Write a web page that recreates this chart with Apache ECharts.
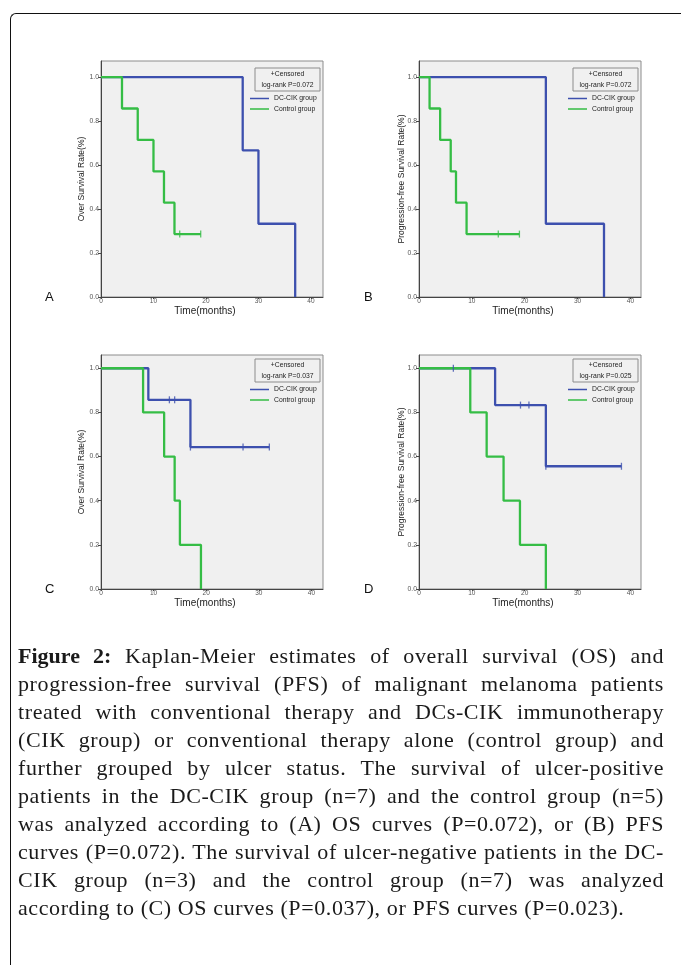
<!DOCTYPE html>
<html>
<head>
<meta charset="utf-8">
<script src="https://cdn.jsdelivr.net/npm/echarts@6/dist/echarts.min.js"></script>
<style>
html,body{margin:0;padding:0;background:#fff;}
#wrap{position:relative;width:681px;height:965px;overflow:hidden;}
#chart{position:absolute;left:0;top:0;width:681px;height:965px;}
#frame{position:absolute;left:10px;top:13px;width:720px;height:1000px;border-left:1.5px solid #111;border-top:1.5px solid #111;border-top-left-radius:6px;}
#caption{position:absolute;left:18px;top:642px;width:646px;font-family:"Liberation Serif","DejaVu Serif",serif;font-size:22px;letter-spacing:0.6px;line-height:28px;color:#1a1a1a;}
#caption div{text-align:justify;text-align-last:justify;white-space:nowrap;}
#caption div.last{text-align:left;text-align-last:left;}
#caption b{font-weight:bold;letter-spacing:0;}
</style>
</head>
<body>
<div id="wrap">
<div id="frame"></div>
<div id="chart"></div>
<div id="caption">
<div><b>Figure 2:</b> Kaplan-Meier estimates of overall survival (OS) and</div>
<div>progression-free survival (PFS) of malignant melanoma patients</div>
<div>treated with conventional therapy and DCs-CIK immunotherapy</div>
<div>(CIK group) or conventional therapy alone (control group) and</div>
<div>further grouped by ulcer status. The survival of ulcer-positive</div>
<div>patients in the DC-CIK group (n=7) and the control group (n=5)</div>
<div>was analyzed according to (A) OS curves (P=0.072), or (B) PFS</div>
<div>curves (P=0.072). The survival of ulcer-negative patients in the DC-</div>
<div>CIK group (n=3) and the control group (n=7) was analyzed</div>
<div class="last">according to (C) OS curves (P=0.037), or PFS curves (P=0.023).</div>
</div>
</div>
<script>
// panel A - ulcer positive, OS
var aDcTime=[0,27,30,37];
var aDcSurv=[1,0.667,0.333,0];
var aCtrlTime=[0,4,7,10,12,14,19];
var aCtrlSurv=[1,0.857,0.714,0.571,0.429,0.286,0.286];
var aCtrlCensTime=[15,19];
var aCtrlCensSurv=[0.286,0.286];
// panel B - ulcer positive, PFS
var bDcTime=[0,24,35];
var bDcSurv=[1,0.333,0];
var bCtrlTime=[0,2,4,6,7,9,19];
var bCtrlSurv=[1,0.857,0.714,0.571,0.429,0.286,0.286];
var bCtrlCensTime=[15,19];
var bCtrlCensSurv=[0.286,0.286];
// panel C - ulcer negative, OS
var cDcTime=[0,9,17,32];
var cDcSurv=[1,0.857,0.643,0.643];
var cDcCensTime=[13,14,17,27,32];
var cDcCensSurv=[0.857,0.857,0.643,0.643,0.643];
var cCtrlTime=[0,8,12,14,15,19];
var cCtrlSurv=[1,0.8,0.6,0.4,0.2,0];
// panel D - ulcer negative, PFS
var dDcTime=[0,14.4,24,38.3];
var dDcSurv=[1,0.833,0.556,0.556];
var dDcCensTime=[6.5,19.2,20.8,24,38.3];
var dDcCensSurv=[1,0.833,0.833,0.556,0.556];
var dCtrlTime=[0,9.7,12.8,16,19.1,24];
var dCtrlSurv=[1,0.8,0.6,0.4,0.2,0];

var xTicks=[0,10,20,30,40];
var yTicks=[0,0.2,0.4,0.6,0.8,1.0];
var panelLetters=['A','B','C','D'];
var yTitles=['Over Survival Rate(%)','Progression-free Survival Rate(%)','Over Survival Rate(%)','Progression-free Survival Rate(%)'];
var pValues=['log-rank P=0.072','log-rank P=0.072','log-rank P=0.037','log-rank P=0.025'];
var xTitle='Time(months)';
var groupNames=['DC-CIK group','Control group'];

var blue='#3d50ae';
var green='#35bd45';

function pairs(t,s){
	var out=[];
	for(var i=0;i<t.length;i++){out.push([t[i],s[i]]);}
	return out;
}

// layout of the 4 plot boxes
var boxes=[
	{left:101,top:61,width:222,height:236,ymax:1.073,xmax:42.3},
	{left:419,top:61,width:222,height:236,ymax:1.073,xmax:42},
	{left:101,top:355,width:222,height:234,ymax:1.06,xmax:42.2},
	{left:419,top:355,width:222,height:234,ymax:1.06,xmax:42}
];
var yGap=[14.5,12.5,14.5,12.5];

var panels=[
	{dc:pairs(aDcTime,aDcSurv),ctrl:pairs(aCtrlTime,aCtrlSurv),dcCens:[],ctrlCens:pairs(aCtrlCensTime,aCtrlCensSurv)},
	{dc:pairs(bDcTime,bDcSurv),ctrl:pairs(bCtrlTime,bCtrlSurv),dcCens:[],ctrlCens:pairs(bCtrlCensTime,bCtrlCensSurv)},
	{dc:pairs(cDcTime,cDcSurv),ctrl:pairs(cCtrlTime,cCtrlSurv),dcCens:pairs(cDcCensTime,cDcCensSurv),ctrlCens:[]},
	{dc:pairs(dDcTime,dDcSurv),ctrl:pairs(dCtrlTime,dCtrlSurv),dcCens:pairs(dDcCensTime,dDcCensSurv),ctrlCens:[]}
];

var grid=[],xAxis=[],yAxis=[],series=[],legend=[],graphic=[];
for(var k=0;k<4;k++){
	var b=boxes[k];
	grid.push({left:b.left,top:b.top,width:b.width,height:b.height,show:true,backgroundColor:'#f0f0f0',borderColor:'#8c8c8c',borderWidth:1});
	xAxis.push({
		type:'value',gridIndex:k,min:0,max:b.xmax,interval:10,
		name:xTitle,nameLocation:'middle',nameGap:9,nameMoveOverlap:false,
		nameTextStyle:{fontSize:10,color:'#222',fontFamily:'Liberation Sans',padding:[0,14,0,0]},
		axisLine:{show:true,onZero:false,lineStyle:{color:'#444',width:1}},
		axisTick:{show:true,length:2,customValues:xTicks,lineStyle:{color:'#444'}},
		axisLabel:{fontSize:6.5,color:'#555',margin:1,fontFamily:'Liberation Sans',customValues:xTicks},
		splitLine:{show:false}
	});
	yAxis.push({
		type:'value',gridIndex:k,min:0,max:b.ymax,interval:0.2,
		name:yTitles[k],nameLocation:'middle',nameGap:yGap[k],nameMoveOverlap:false,
		nameTextStyle:{fontSize:8.5,color:'#222',fontFamily:'Liberation Sans'},
		axisLine:{show:true,onZero:false,lineStyle:{color:'#444',width:1}},
		axisTick:{show:true,length:3,customValues:yTicks,lineStyle:{color:'#444'}},
		axisLabel:{fontSize:6.8,color:'#555',margin:2,fontFamily:'Liberation Sans',customValues:yTicks,
			formatter:function(v){return v.toFixed(1);}},
		splitLine:{show:false}
	});
	var p=panels[k];
	series.push({name:groupNames[0],type:'line',xAxisIndex:k,yAxisIndex:k,step:'end',symbol:'none',data:p.dc,lineStyle:{color:blue,width:2.3},itemStyle:{color:blue},z:3});
	series.push({name:groupNames[1],type:'line',xAxisIndex:k,yAxisIndex:k,step:'end',symbol:'none',data:p.ctrl,lineStyle:{color:green,width:2.3},itemStyle:{color:green},z:3});
	series.push({name:'dc censored '+k,type:'scatter',xAxisIndex:k,yAxisIndex:k,symbol:'rect',symbolSize:[1.3,7],data:p.dcCens,itemStyle:{color:blue},z:4});
	series.push({name:'ctrl censored '+k,type:'scatter',xAxisIndex:k,yAxisIndex:k,symbol:'rect',symbolSize:[1.3,7],data:p.ctrlCens,itemStyle:{color:green},z:4});

	var bx=b.left+b.width-68, by=b.top+(k<2?7:4);
	legend.push({
		data:groupNames,orient:'vertical',left:bx-5,top:by+27,padding:0,
		icon:'rect',itemWidth:19,itemHeight:1.5,itemGap:3.5,
		textStyle:{fontSize:6.8,color:'#222',fontFamily:'Liberation Sans'},
		selectedMode:false
	});
	graphic.push({type:'rect',shape:{x:bx,y:by,width:65,height:23},style:{fill:'#f0f0f0',stroke:'#8c8c8c',lineWidth:1},z:10});
	graphic.push({type:'text',x:bx+32.5,y:by+6.5,style:{text:'+Censored',fontSize:6.8,fill:'#222',align:'center',verticalAlign:'middle',fontFamily:'Liberation Sans'},z:11});
	graphic.push({type:'text',x:bx+32.5,y:by+17.5,style:{text:pValues[k],fontSize:6.8,fill:'#222',align:'center',verticalAlign:'middle',fontFamily:'Liberation Sans'},z:11});
	graphic.push({type:'text',x:(k%2==0?45:364),y:b.top+b.height,style:{text:panelLetters[k],fontSize:13,fill:'#111',verticalAlign:'middle',fontFamily:'Liberation Sans'},z:11});
}

var myChart=echarts.init(document.getElementById('chart'),null,{renderer:'canvas'});
myChart.setOption({
	animation:false,
	backgroundColor:'transparent',
	grid:grid,
	xAxis:xAxis,
	yAxis:yAxis,
	legend:legend,
	graphic:graphic,
	series:series
});
</script>
</body>
</html>
